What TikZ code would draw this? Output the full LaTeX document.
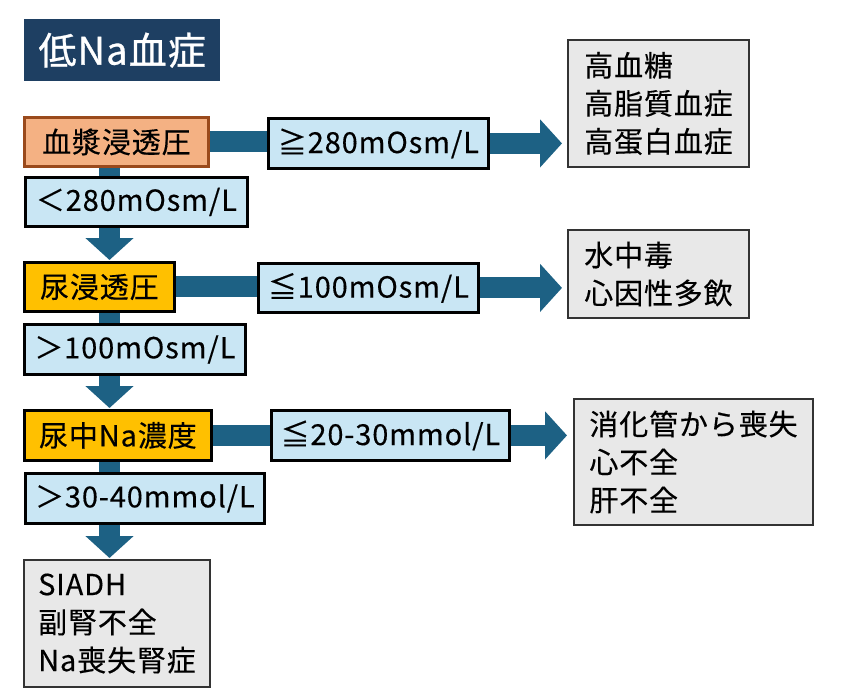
\documentclass[tikz,border=0pt]{standalone}
\usepackage{fontspec}
\setmainfont{Noto Sans CJK JP}[LetterSpace=3,FakeBold=0.3]
\newfontfamily\headfont{Noto Sans CJK JP}[LetterSpace=3,FakeBold=0.8]
\usetikzlibrary{arrows.meta}
\definecolor{navy}{HTML}{1E3F62}
\definecolor{barblue}{HTML}{1D6184}
\definecolor{paleblue}{HTML}{C9E6F4}
\definecolor{salmon}{HTML}{F4B183}
\definecolor{rust}{HTML}{9A4A1C}
\definecolor{amber}{HTML}{FFC000}
\definecolor{palegray}{HTML}{E8E8E8}

\begin{document}
\begin{tikzpicture}[x=1pt,y=-1pt,
  box/.style={anchor=north west,inner sep=0pt,line width=2.8pt,draw=black,
    font=\fontsize{29}{38}\selectfont},
  lbl/.style={box,fill=paleblue},
  test/.style={box,fill=amber},
  res/.style={box,fill=palegray,draw=black!80,line width=2pt,align=left},
  bar/.style={barblue,line width=21pt},
  bigarrow/.style={bar,-{Triangle[width=47pt,length=22pt]}}]
  \useasboundingbox (0,0) rectangle (859,694);
  \coordinate (spine) at (109.5,0);

  \node[anchor=north west,fill=navy,text=white,minimum width=196pt,minimum height=62pt,
    font=\headfont\fontsize{38}{44}\selectfont] (title) at (24,19) {低Na血症};

  \node[box,fill=salmon,draw=rust,minimum width=184pt,minimum height=49pt] (plasma) at (23,116) {血漿浸透圧};
  \node[lbl,minimum width=220pt,minimum height=50pt] (ge280) at (267,117) {≧280mOsm/L};
  \node[res,minimum width=181pt,minimum height=127pt] (res1) at (567,39) {高血糖\\高脂質血症\\高蛋白血症};
  \node[lbl,minimum width=222pt,minimum height=49pt] (lt280) at (24,176) {＜280mOsm/L};

  \node[test,minimum width=150pt,minimum height=49pt] (uosm) at (23,261) {尿浸透圧};
  \node[lbl,minimum width=220pt,minimum height=49pt] (le100) at (257,262) {≦100mOsm/L};
  \node[res,minimum width=181pt,minimum height=88pt] (res2) at (567,229) {水中毒\\心因性多飲};
  \node[lbl,minimum width=221pt,minimum height=50pt] (gt100) at (23,323) {＞100mOsm/L};

  \node[test,minimum width=187pt,minimum height=50pt] (una) at (23,409) {尿中Na濃度};
  \node[lbl,minimum width=238pt,minimum height=50pt] (le2030) at (270,409) {≦20-30mmol/L};
  \node[res,minimum width=239pt,minimum height=126pt] (res3) at (573,398) {消化管から喪失\\心不全\\肝不全};
  \node[lbl,minimum width=239pt,minimum height=50pt] (gt3040) at (24,472) {＞30-40mmol/L};

  \node[res,minimum width=186pt,minimum height=127pt] (res4) at (23,559) {SIADH\\副腎不全\\Na喪失腎症};

  \draw[bar] (plasma.east) -- (plasma.east -| ge280.west);
  \draw[bigarrow,shorten >=5pt] (ge280.east) -- (ge280.east -| res1.west);
  \draw[bar] (plasma.south -| spine) -- (lt280.north -| spine);
  \draw[bigarrow,shorten >=1pt] (lt280.south -| spine) -- (uosm.north -| spine);

  \draw[bar] (uosm.east) -- (uosm.east -| le100.west);
  \draw[bigarrow,shorten >=5pt] (le100.east) -- (le100.east -| res2.west);
  \draw[bar] (uosm.south -| spine) -- (gt100.north -| spine);
  \draw[bigarrow,shorten >=1pt] (gt100.south -| spine) -- (una.north -| spine);

  \draw[bar] (una.east) -- (una.east -| le2030.west);
  \draw[bigarrow,shorten >=6pt] (le2030.east) -- (le2030.east -| res3.west);
  \draw[bar] (una.south -| spine) -- (gt3040.north -| spine);
  \draw[bigarrow,shorten >=1pt] (gt3040.south -| spine) -- (res4.north -| spine);
\end{tikzpicture}
\end{document}
